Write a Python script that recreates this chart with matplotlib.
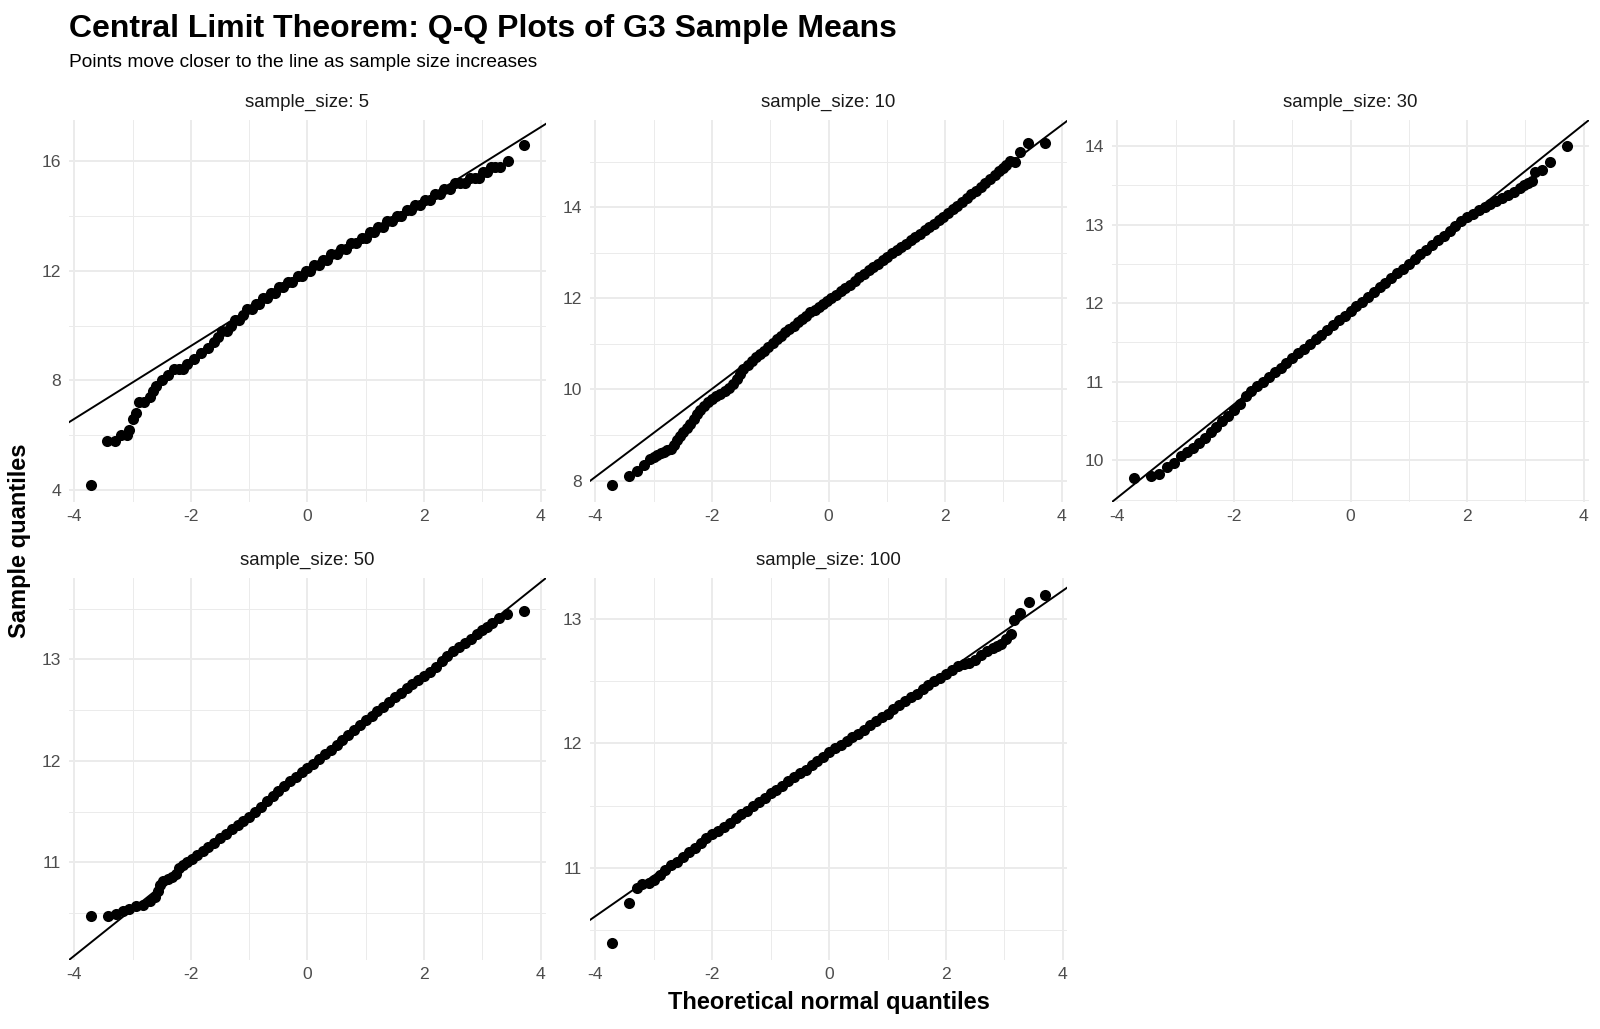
import matplotlib
matplotlib.use("Agg")
import matplotlib.pyplot as plt
from matplotlib.ticker import MultipleLocator, FormatStrFormatter
import numpy as np

plt.rcParams['font.family'] = ['Liberation Sans', 'DejaVu Sans']
plt.rcParams['axes.unicode_minus'] = False

# ---- data (theoretical quantile, sample mean) ----
sample_sizes = [5, 10, 30, 50, 100]

q5 = [-3.72, -3.44, -3.30, -3.20, -3.10, -3.07, -3.00, -2.94, -2.89, -2.81,
      -2.71, -2.65, -2.60, -2.49, -2.40, -2.29, -2.21, -2.14, -2.06, -1.94,
      -1.83, -1.71, -1.60, -1.53, -1.46, -1.38, -1.31, -1.24, -1.17, -1.10,
      -1.03, -0.96, -0.89, -0.83, -0.77, -0.70, -0.63, -0.56, -0.49, -0.42,
      -0.34, -0.26, -0.17, -0.10, -0.03, 0.04, 0.11, 0.19, 0.26, 0.33,
      0.41, 0.50, 0.58, 0.66, 0.75, 0.84, 0.93, 1.00, 1.07, 1.14,
      1.21, 1.29, 1.37, 1.45, 1.53, 1.61, 1.70, 1.78, 1.85, 1.93,
      2.01, 2.10, 2.18, 2.27, 2.35, 2.44, 2.53, 2.61, 2.70, 2.78,
      2.87, 2.94, 3.01, 3.08, 3.15, 3.22, 3.30, 3.44, 3.72]
m5 = [4.2, 5.8, 5.8, 6.0, 6.0, 6.2, 6.6, 6.8, 7.2, 7.2,
      7.4, 7.6, 7.8, 8.0, 8.2, 8.4, 8.4, 8.4, 8.6, 8.8,
      9.0, 9.2, 9.4, 9.6, 9.8, 9.8, 10.0, 10.2, 10.2, 10.4,
      10.6, 10.6, 10.8, 10.8, 11.0, 11.0, 11.2, 11.2, 11.4, 11.4,
      11.6, 11.6, 11.8, 11.8, 12.0, 12.0, 12.2, 12.2, 12.4, 12.4,
      12.6, 12.6, 12.8, 12.8, 13.0, 13.0, 13.2, 13.2, 13.4, 13.4,
      13.6, 13.6, 13.8, 13.8, 14.0, 14.0, 14.2, 14.2, 14.4, 14.4,
      14.6, 14.6, 14.8, 14.8, 15.0, 15.0, 15.2, 15.2, 15.2, 15.4,
      15.4, 15.4, 15.6, 15.6, 15.8, 15.8, 15.8, 16.0, 16.6]

q10 = [-3.72, -3.43, -3.29, -3.17, -3.06, -3.00, -2.94, -2.88, -2.83, -2.77,
       -2.71, -2.65, -2.60, -2.55, -2.49, -2.43, -2.37, -2.31, -2.26, -2.20,
       -2.14, -2.07, -2.00, -1.93, -1.86, -1.78, -1.71, -1.64, -1.57, -1.51,
       -1.46, -1.38, -1.31, -1.24, -1.17, -1.10, -1.03, -0.96, -0.89, -0.82,
       -0.74, -0.67, -0.60, -0.53, -0.46, -0.38, -0.31, -0.24, -0.17, -0.10,
       -0.03, 0.05, 0.13, 0.21, 0.29, 0.37, 0.45, 0.53, 0.61, 0.69,
       0.77, 0.85, 0.93, 1.01, 1.09, 1.17, 1.25, 1.33, 1.41, 1.49,
       1.57, 1.65, 1.73, 1.81, 1.89, 1.97, 2.05, 2.13, 2.21, 2.29,
       2.37, 2.45, 2.53, 2.61, 2.69, 2.77, 2.85, 2.92, 2.99, 3.05,
       3.11, 3.20, 3.29, 3.43, 3.72]
m10 = [7.91, 8.11, 8.20, 8.33, 8.47, 8.52, 8.55, 8.60, 8.62, 8.66,
       8.69, 8.78, 8.88, 8.97, 9.06, 9.15, 9.24, 9.35, 9.46, 9.55,
       9.64, 9.72, 9.79, 9.85, 9.90, 9.96, 10.03, 10.12, 10.23, 10.34,
       10.45, 10.54, 10.63, 10.70, 10.77, 10.85, 10.93, 11.02, 11.10, 11.18,
       11.25, 11.32, 11.39, 11.47, 11.54, 11.62, 11.69, 11.75, 11.81, 11.88,
       11.94, 12.00, 12.08, 12.15, 12.23, 12.30, 12.38, 12.46, 12.53, 12.61,
       12.68, 12.76, 12.84, 12.91, 12.99, 13.06, 13.13, 13.20, 13.27, 13.35,
       13.42, 13.49, 13.56, 13.63, 13.71, 13.79, 13.87, 13.95, 14.03, 14.11,
       14.19, 14.28, 14.36, 14.44, 14.53, 14.62, 14.71, 14.79, 14.86, 14.93,
       15.02, 15.00, 15.20, 15.40, 15.40]

q30 = [-3.72, -3.43, -3.28, -3.14, -3.02, -2.9, -2.8, -2.7, -2.6, -2.5,
       -2.4, -2.3, -2.2, -2.1, -2.0, -1.9, -1.8, -1.7, -1.6, -1.5,
       -1.4, -1.3, -1.2, -1.1, -1.0, -0.9, -0.8, -0.7, -0.6, -0.5,
       -0.4, -0.3, -0.2, -0.1, 0.0, 0.1, 0.2, 0.3, 0.4, 0.5,
       0.6, 0.7, 0.8, 0.9, 1.0, 1.1, 1.2, 1.3, 1.4, 1.5,
       1.6, 1.7, 1.8, 1.9, 2.0, 2.1, 2.2, 2.3, 2.4, 2.5,
       2.6, 2.7, 2.8, 2.9, 2.98, 3.05, 3.11, 3.17, 3.29, 3.43, 3.72]
m30 = [9.77, 9.80, 9.83, 9.91, 9.97, 10.05, 10.10, 10.16, 10.22, 10.29,
       10.36, 10.43, 10.50, 10.57, 10.64, 10.72, 10.82, 10.88, 10.94, 11.00,
       11.06, 11.12, 11.18, 11.24, 11.30, 11.36, 11.42, 11.48, 11.54, 11.60,
       11.66, 11.72, 11.78, 11.84, 11.90, 11.96, 12.02, 12.08, 12.14, 12.20,
       12.26, 12.32, 12.38, 12.44, 12.50, 12.56, 12.62, 12.68, 12.74, 12.80,
       12.86, 12.92, 12.98, 13.05, 13.09, 13.13, 13.18, 13.22, 13.26, 13.30,
       13.34, 13.38, 13.42, 13.46, 13.50, 13.53, 13.56, 13.67, 13.70, 13.80, 14.00]

q50 = [-3.72, -3.43, -3.29, -3.17, -3.06, -2.94, -2.83, -2.71, -2.62, -2.57,
       -2.53, -2.48, -2.40, -2.33, -2.26, -2.20, -2.13, -2.06, -1.98, -1.90,
       -1.80, -1.70, -1.60, -1.50, -1.40, -1.30, -1.20, -1.10, -1.00, -0.90,
       -0.80, -0.70, -0.60, -0.50, -0.40, -0.30, -0.20, -0.10, 0.00, 0.10,
       0.20, 0.30, 0.40, 0.50, 0.60, 0.70, 0.80, 0.90, 1.00, 1.10,
       1.20, 1.30, 1.40, 1.50, 1.60, 1.70, 1.80, 1.90, 2.00, 2.10,
       2.20, 2.30, 2.40, 2.50, 2.60, 2.70, 2.80, 2.90, 3.00, 3.08,
       3.17, 3.29, 3.43, 3.72]
m50 = [10.47, 10.47, 10.49, 10.52, 10.54, 10.57, 10.58, 10.62, 10.66, 10.72,
       10.78, 10.82, 10.84, 10.86, 10.89, 10.94, 10.97, 11.00, 11.03, 11.07,
       11.11, 11.15, 11.19, 11.24, 11.28, 11.33, 11.37, 11.41, 11.45, 11.50,
       11.55, 11.60, 11.65, 11.70, 11.75, 11.80, 11.84, 11.89, 11.93, 11.97,
       12.02, 12.07, 12.11, 12.16, 12.21, 12.26, 12.30, 12.35, 12.40, 12.44,
       12.49, 12.53, 12.58, 12.63, 12.67, 12.72, 12.76, 12.80, 12.84, 12.88,
       12.93, 12.98, 13.03, 13.08, 13.12, 13.16, 13.20, 13.25, 13.29, 13.32,
       13.36, 13.41, 13.45, 13.48]

q100 = [-3.72, -3.43, -3.29, -3.20, -3.09, -3.00, -2.9, -2.8, -2.7, -2.6,
        -2.5, -2.4, -2.3, -2.2, -2.1, -2.0, -1.9, -1.8, -1.7, -1.6,
        -1.5, -1.4, -1.3, -1.2, -1.1, -1.0, -0.9, -0.8, -0.7, -0.6,
        -0.5, -0.4, -0.3, -0.2, -0.1, 0.0, 0.1, 0.2, 0.3, 0.4,
        0.5, 0.6, 0.7, 0.8, 0.9, 1.0, 1.1, 1.2, 1.3, 1.4,
        1.5, 1.6, 1.7, 1.8, 1.9, 2.0, 2.1, 2.2, 2.3, 2.4,
        2.5, 2.6, 2.7, 2.8, 2.88, 2.94, 3.03, 3.11, 3.17, 3.27, 3.42, 3.70]
m100 = [10.40, 10.72, 10.84, 10.87, 10.88, 10.90, 10.94, 10.98, 11.02, 11.05,
        11.09, 11.13, 11.16, 11.20, 11.24, 11.27, 11.30, 11.33, 11.36, 11.40,
        11.43, 11.46, 11.50, 11.53, 11.56, 11.60, 11.63, 11.66, 11.70, 11.73,
        11.76, 11.79, 11.83, 11.86, 11.89, 11.93, 11.96, 11.99, 12.02, 12.05,
        12.08, 12.11, 12.15, 12.18, 12.21, 12.24, 12.28, 12.31, 12.34, 12.37,
        12.40, 12.44, 12.47, 12.50, 12.53, 12.56, 12.59, 12.62, 12.64, 12.65,
        12.67, 12.71, 12.74, 12.77, 12.78, 12.80, 12.84, 12.88, 12.99, 13.05, 13.14, 13.19]

# reference line (intercept, slope) of each panel
line_intercepts = [11.92, 11.94, 11.90, 11.92, 11.92]
line_slopes = [1.33, 0.965, 0.594, 0.46, 0.327]
y_major_steps = [4, 2, 1, 1, 1]

quantiles = [q5, q10, q30, q50, q100]
means = [m5, m10, m30, m50, m100]

# ---- layout (pixels of the 1600x1029 figure) ----
W, H = 1600, 1029
panel_left = [69, 590, 1112, 69, 590]
panel_top = [120, 120, 120, 578, 578]
panel_w, panel_h = 477, 382

GRID = "#EBEBEB"
TEXT_GREY = "#4D4D4D"


def draw_panel(fig, i):
    q = np.array(quantiles[i])
    m = np.array(means[i])
    a, b = line_intercepts[i], line_slopes[i]

    ax = fig.add_axes([panel_left[i] / W, 1 - (panel_top[i] + panel_h) / H,
                       panel_w / W, panel_h / H])
    ax.scatter(q, m, s=64, color="black", linewidths=0, zorder=3)
    ax.axline((0, a), slope=b, color="black", lw=1.4, zorder=4)

    # limits like ggplot: data + line over data range, 5% expansion
    xlo, xhi = q.min(), q.max()
    xpad = 0.05 * (xhi - xlo)
    ax.set_xlim(xlo - xpad, xhi + xpad)
    ylo = min(m.min(), a + b * xlo)
    yhi = max(m.max(), a + b * xhi)
    ypad = 0.05 * (yhi - ylo)
    ax.set_ylim(ylo - ypad, yhi + ypad)

    step = y_major_steps[i]
    ax.xaxis.set_major_locator(MultipleLocator(2))
    ax.xaxis.set_minor_locator(MultipleLocator(1))
    ax.yaxis.set_major_locator(MultipleLocator(step))
    ax.yaxis.set_minor_locator(MultipleLocator(step / 2))
    ax.xaxis.set_major_formatter(FormatStrFormatter("%g"))
    ax.yaxis.set_major_formatter(FormatStrFormatter("%g"))

    ax.grid(which="major", color=GRID, lw=1.4)
    ax.grid(which="minor", color=GRID, lw=0.7)
    ax.set_axisbelow(True)
    for sp in ax.spines.values():
        sp.set_visible(False)
    ax.tick_params(which="both", length=0, labelsize=12.6, colors=TEXT_GREY)
    ax.tick_params(axis="x", pad=5)
    ax.tick_params(axis="y", pad=5.5)

    ax.text(0.5, 1 + 13 / panel_h, f"sample_size: {sample_sizes[i]}",
            transform=ax.transAxes, ha="center", va="baseline",
            fontsize=13.4, color="#1A1A1A")
    return ax


fig = plt.figure(figsize=(W / 100, H / 100), dpi=100, facecolor="white")

for i in range(len(sample_sizes)):
    draw_panel(fig, i)

fig.text(69 / W, 1 - 36.7 / H, "Central Limit Theorem: Q-Q Plots of G3 Sample Means",
         fontsize=23, fontweight="bold", va="baseline", ha="left")
fig.text(69 / W, 1 - 67 / H, "Points move closer to the line as sample size increases",
         fontsize=13.8, va="baseline", ha="left")
fig.text(20 / W, 1 - 541 / H, "Sample quantiles", rotation=90,
         fontsize=17, fontweight="bold", ha="center", va="center")
fig.text(829 / W, 1 - 1003 / H, "Theoretical normal quantiles",
         fontsize=17, fontweight="bold", ha="center", va="center")

fig.savefig("out.png", dpi=100, facecolor="white")
